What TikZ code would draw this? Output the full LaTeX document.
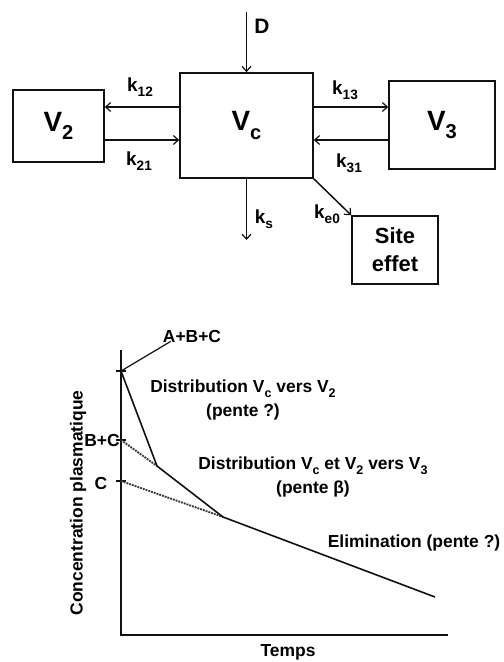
\documentclass[tikz,border=0pt]{standalone}
\usepackage{fontspec}
\setmainfont{Liberation Sans}
\usetikzlibrary{arrows.meta, positioning, calc}
\definecolor{cink}{HTML}{111111}
\definecolor{cdots}{HTML}{3A3A3A}
\newcommand{\lo}[1]{\raisebox{-0.55ex}{\scalebox{0.72}{#1}}}

\begin{document}
\begin{tikzpicture}[x=1bp, y=-1bp, font=\bfseries,
  box/.style={draw=cink, line width=1.6bp, inner sep=0pt, align=center},
  arr/.style={-{Straight Barb[length=5bp, width=9bp, line width=1.2bp]}, line width=1.5bp, cink},
  klbl/.style={inner sep=0pt, font=\fontsize{19}{22}\selectfont\bfseries},
  txt/.style={inner sep=0pt, align=center, font=\fontsize{17.5}{24}\selectfont\bfseries},
  axis/.style={line width=1.8bp, cink},
  curve/.style={line width=1.6bp, cink},
  dots/.style={line width=1.9bp, densely dotted, cdots}]
  \useasboundingbox (0,0) rectangle (504,662);
  % compartments
  \node[box, minimum width=133bp, minimum height=105bp, font=\fontsize{28}{30}\selectfont\bfseries] (vc) at (246.5,125.5) {V\lo{c}};
  \node[box, minimum width=91bp, minimum height=72bp, font=\fontsize{28}{30}\selectfont\bfseries] (v2) at (58.5,126) {V\lo{2}};
  \node[box, minimum width=106bp, minimum height=88bp, font=\fontsize{28}{30}\selectfont\bfseries] (v3) at (442,125) {V\lo{3}};
  \node[box, minimum width=86bp, minimum height=68bp, font=\fontsize{22}{28}\selectfont\bfseries] (site) at (395,250) {Site\\effet};
  % exchanges
  \coordinate (c12) at ([yshift=18.5bp]vc.west);
  \coordinate (c21) at ([yshift=-14.5bp]vc.west);
  \coordinate (c13) at ([yshift=18.5bp]vc.east);
  \coordinate (c31) at ([yshift=-14.5bp]vc.east);
  \draw[arr] (c12) -- (c12 -| v2.east);
  \draw[arr] (c21 -| v2.east) -- (c21);
  \draw[arr] (c13) -- (c13 -| v3.west);
  \draw[arr] (c31 -| v3.west) -- (c31);
  \node[klbl] (k12) at (140,87) {k\lo{12}};
  \node[klbl] (k21) at (139,161) {k\lo{21}};
  \node[klbl] (k13) at (345,90) {k\lo{13}};
  \node[klbl] (k31) at (349,163) {k\lo{31}};
  % dose and outputs
  \coordinate (dtop) at (246.5,12);
  \coordinate (ksend) at (246.5,240);
  \draw[arr] (dtop) -- (vc.north);
  \draw[arr] (vc.south) -- (ksend);
  \draw[arr] (vc.south east) -- (site.north west);
  \node[inner sep=0pt, font=\fontsize{21}{24}\selectfont\bfseries] (dose) at (262,26) {D};
  \node[klbl] (ks) at (264,219) {k\lo{s}};
  \node[klbl] (ke) at (327,214) {k\lo{e0}};
  % concentration curve
  \coordinate (org) at (121,635);
  \coordinate (ytop) at (121,350);
  \coordinate (xend) at (448,635);
  \coordinate (pabc) at (121,371);
  \coordinate (pbc) at (121,440);
  \coordinate (pc) at (121,481);
  \coordinate (kn1) at (157,466);
  \coordinate (kn2) at (223,517);
  \coordinate (tend) at (435,597);
  \draw[axis] (ytop) -- (org) -- (xend);
  \foreach \p in {pabc,pbc,pc}
    \draw[line width=1.3bp, cink] ([xshift=-5bp]\p) -- ([xshift=5bp]\p);
  \draw[dots] (pbc) -- (kn1);
  \draw[dots] (pc) -- (kn2);
  \draw[curve, line join=round] (pabc) -- (kn1) -- (kn2) -- (tend);
  % annotations
  \node[txt] (labc) at (192,336) {A+B+C};
  \draw[line width=1.2bp, cink] (pabc) -- ([xshift=8bp, yshift=1bp]labc.south west);
  \node[txt] (lbc) at (102,440) {B+C};
  \node[txt] (lc) at (101,483) {C};
  \node[txt] (dist1) at (243,400) {Distribution V\lo{c} vers V\lo{2}\\(pente ?)};
  \node[txt] (dist2) at (313,477) {Distribution V\lo{c} et V\lo{2} vers V\lo{3}\\(pente β)};
  \node[txt] (elim) at (414,543) {Elimination (pente ?)};
  \node[txt] (temps) at (288,652) {Temps};
  \node[txt, rotate=90] (ylab) at (78,503) {Concentration plasmatique};
\end{tikzpicture}
\end{document}
